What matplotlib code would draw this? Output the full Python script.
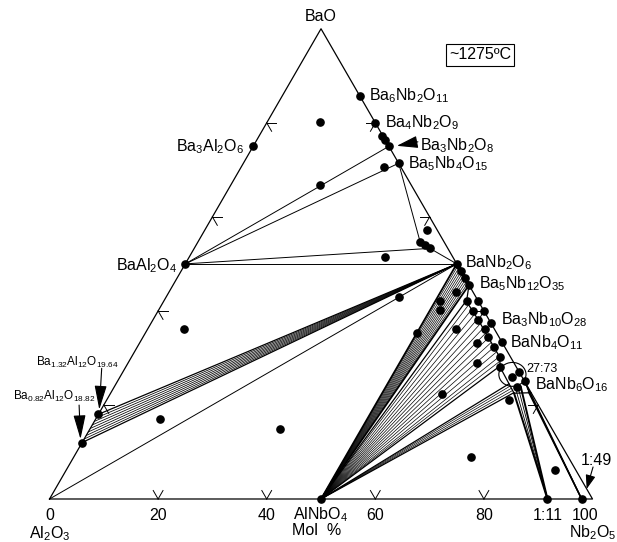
import numpy as np
import matplotlib
matplotlib.use("Agg")
import matplotlib.pyplot as plt
from matplotlib.patches import Ellipse

plt.rcParams["font.family"] = "Liberation Sans"
plt.rcParams["mathtext.fontset"] = "custom"
plt.rcParams["mathtext.rm"] = "Liberation Sans"
plt.rcParams["mathtext.it"] = "Liberation Sans"
plt.rcParams["mathtext.default"] = "regular"

# compositions in mol % (BaO, Nb2O5); Al2O3 is the rest
cmp_labels = [r"$Ba_6Nb_2O_{11}$", r"$Ba_4Nb_2O_9$", r"$Ba_3Nb_2O_8$", r"$Ba_5Nb_4O_{15}$",
              r"$BaNb_2O_6$", r"$Ba_5Nb_{12}O_{35}$", r"$Ba_3Nb_{10}O_{28}$", r"$BaNb_4O_{11}$",
              "27:73", r"$BaNb_6O_{16}$", r"$Ba_3Al_2O_6$", r"$BaAl_2O_4$"]
cmp_bao = [85.7, 80.0, 75.0, 71.4, 50.0, 45.5, 37.5, 33.3, 27.0, 25.0, 75.0, 50.0]
cmp_nb = [14.3, 20.0, 25.0, 28.6, 50.0, 54.5, 62.5, 66.7, 73.0, 75.0, 0.0, 0.0]

# Ba beta-alumina limits
ba132 = (18.0, 0.0)
ba082 = (12.0, 0.0)
alnbo4 = (0.0, 50.0)
r111 = (0.0, 91.7)
r149 = (0.0, 98.0)

# small cluster below Ba5Nb4O15
clu_bao = [54.7, 54.0, 53.3]
clu_nb = [40.9, 42.1, 43.4]

# inner boundary of the Al-substituted tungsten-bronze field
inner_bao = [45.5, 42.0, 38.1, 34.4, 30.2, 28.0, 22.5]
inner_nb = [54.5, 55.8, 59.9, 63.6, 67.8, 69.0, 74.3]

# experimental compositions (dots)
dot_bao = [80.1, 77.2, 76.4, 70.7, 66.8, 57.2, 51.5, 36.1, 17.0, 42.9, 14.9,
           44.1, 42.0, 40.1, 35.4, 36.1, 33.1, 28.9, 22.3, 9.0, 6.2, 21.1, 23.9, 26.0,
           42.0, 39.9, 38.1, 36.1, 34.4, 32.4, 30.2, 28.0, 42.0, 39.9, 48.5, 47.0]
dot_nb = [9.7, 22.7, 23.6, 26.3, 16.4, 40.9, 36.0, 6.8, 11.8, 42.9, 35.0,
          52.9, 50.9, 51.9, 49.9, 56.9, 62.1, 64.2, 61.1, 73.1, 90.0, 74.1, 74.1, 72.1,
          55.8, 58.1, 59.9, 62.2, 63.6, 65.7, 67.8, 69.0, 58.0, 60.0, 51.5, 53.0]

tick_vals = [20, 40, 60, 80]
bottom_vals = [0, 20, 40, 60, 80]

S3 = np.sqrt(3) / 2
PX = 100 / 543  # data units per pixel


def xy(bao, nb):
    return nb + bao / 2, bao * S3


fig = plt.figure(figsize=(6.17, 5.42), dpi=100)
ax = fig.add_axes([0, 0, 1, 1])
ax.set_xlim(-9.12, 104.51)
ax.set_ylim(-7.92, 91.90)
ax.axis("off")


def seg(p, q, lw=0.7):
    x0, y0 = xy(*p)
    x1, y1 = xy(*q)
    ax.plot([x0, x1], [y0, y1], color="k", lw=lw, solid_capstyle="round")


def fan(apex, p0, p1, n, lw=0.55, edge_lw=0.9):
    for i, t in enumerate(np.linspace(0, 1, n)):
        q = (p0[0] + t * (p1[0] - p0[0]), p0[1] + t * (p1[1] - p0[1]))
        w = edge_lw if i in (0, n - 1) else lw
        seg(apex, q, w)


cmp = {lab: (b, n) for lab, b, n in zip(cmp_labels, cmp_bao, cmp_nb)}
baal2o4 = cmp[r"$BaAl_2O_4$"]
banb2o6 = cmp[r"$BaNb_2O_6$"]
ba5nb4 = cmp[r"$Ba_5Nb_4O_{15}$"]
ba3nb2 = cmp[r"$Ba_3Nb_2O_8$"]
ba5nb12 = cmp[r"$Ba_5Nb_{12}O_{35}$"]
banb6 = cmp[r"$BaNb_6O_{16}$"]

# triangle
tri = [(0, 0), (0, 100), (100, 0), (0, 0)]
tx, ty = zip(*[xy(*p) for p in tri])
ax.plot(tx, ty, color="k", lw=0.9)

# ticks on the three edges
L = 1.8
for v in tick_vals:
    x, y = xy(0, v)
    for d in [(-0.5, S3), (0.5, S3)]:
        ax.plot([x, x + L * d[0]], [y, y + L * d[1]], color="k", lw=0.7)
    x, y = xy(v, 0)
    for d in [(1, 0), (0.5, -S3)]:
        ax.plot([x, x + L * d[0]], [y, y + L * d[1]], color="k", lw=0.7)
    x, y = xy(v, 100 - v)
    for d in [(-1, 0), (-0.5, -S3)]:
        ax.plot([x, x + L * d[0]], [y, y + L * d[1]], color="k", lw=0.7)

# tie lines in the Ba-rich part
clu_top = (clu_bao[0], clu_nb[0])
clu_bot = (clu_bao[-1], clu_nb[-1])
seg(baal2o4, ba3nb2)
seg(baal2o4, ba5nb4)
seg(baal2o4, clu_bot)
seg(baal2o4, banb2o6)
seg(ba5nb4, clu_top)
seg(clu_top, clu_bot, 1.5)
seg(clu_bot, banb2o6)
seg((0, 0), banb2o6)
seg(banb2o6, ba5nb12, 3.0)

# beta-alumina fan to BaNb2O6
fan(banb2o6, ba082, ba132, 9)

# fans from AlNbO4
fan(alnbo4, banb2o6, ba5nb12, 12, lw=0.5, edge_lw=1.3)
ib = np.array(inner_bao[::-1])
inb = np.array(inner_nb[::-1])
c_bao = np.linspace(42.3, 28.3, 15)
for i, b in enumerate(c_bao):
    seg(alnbo4, (b, np.interp(b, ib, inb)), 0.9 if i in (0, len(c_bao) - 1) else 0.5)
d_bao = np.linspace(24.5, 22.6, 5)
for i, b in enumerate(d_bao):
    seg(alnbo4, (b, np.interp(b, ib, inb)), 0.9 if i in (0, len(d_bao) - 1) else 0.5)

# inner boundary and BaNb6O16 corner
ix, iy = zip(*[xy(b, n) for b, n in zip(inner_bao, inner_nb)])
ax.plot(ix, iy, color="k", lw=0.9)
seg((inner_bao[-1], inner_nb[-1]), (22.6, 77.4), 0.9)

# fans to 1:11 and 1:49
fan(r111, (22.5, 74.3), (23.8, 74.9), 4, lw=0.6, edge_lw=1.4)
fan(r149, (22.8, 76.8), banb6, 4, lw=0.6, edge_lw=1.1)

# circled 27:73 region
ex, ey = xy(26.5, 72.0)
ax.add_patch(Ellipse((ex, ey), 5.0, 4.4, fill=False, ec="k", lw=0.8))

# dots
dx_, dy_ = zip(*[xy(b, n) for b, n in zip(dot_bao, dot_nb)])
ax.plot(dx_, dy_, "o", color="k", ms=5.2, zorder=5)
px_, py_ = zip(*[xy(b, n) for b, n in zip(cmp_bao, cmp_nb)])
ax.plot(px_, py_, "o", color="k", ms=5.2, zorder=5)
cx, cy = zip(*[xy(b, n) for b, n in zip(clu_bao, clu_nb)])
ax.plot(cx, cy, "o", color="k", ms=5.2, zorder=5)
for p in [ba132, ba082, alnbo4, r111, r149]:
    ax.plot(*xy(*p), "o", color="k", ms=5.2, zorder=5)


# labels, offsets in pixels (dy up)
def label(text, p, dx, dy, ha="left", size=11.5):
    ax.annotate(text, xy(*p), xytext=(dx * 0.72, dy * 0.72), textcoords="offset points",
                ha=ha, va="baseline", fontsize=size)


offsets = {
    r"$Ba_6Nb_2O_{11}$": (9, -4, "left", 11.5),
    r"$Ba_4Nb_2O_9$": (10, -4.4, "left", 11.5),
    r"$Ba_3Nb_2O_8$": (31, -4.2, "left", 11.5),
    r"$Ba_5Nb_4O_{15}$": (9.7, -5.3, "left", 11.5),
    r"$BaNb_2O_6$": (8.3, -3.3, "left", 11.5),
    r"$Ba_5Nb_{12}O_{35}$": (10.3, -3.6, "left", 11.5),
    r"$Ba_3Nb_{10}O_{28}$": (9.8, -2, "left", 11.5),
    r"$BaNb_4O_{11}$": (8, -5, "left", 11.5),
    "27:73": (7.5, 0, "left", 9),
    r"$BaNb_6O_{16}$": (10.4, -7.8, "left", 11.5),
    r"$Ba_3Al_2O_6$": (-9.7, -5.2, "right", 11.5),
    r"$BaAl_2O_4$": (-8.5, -6, "right", 11.5),
}
for lab in cmp_labels:
    dx, dy, ha, sz = offsets[lab]
    label(lab, cmp[lab], dx, dy, ha, sz)

label("BaO", (100, 0), 0, 8, "center")
label(r"$Ba_{1.32}Al_{12}O_{19.64}$", ba132, -21, 48, "center", 8.5)
label(r"$Ba_{0.82}Al_{12}O_{18.82}$", ba082, -27.6, 42.5, "center", 8.5)
label("1:49", r149, 15, 34, "center", 11.5)


def arrow(p, tail, tip, hl, hw):
    x, y = xy(*p)
    ax.annotate("", xy=(x + tip[0] * PX, y + tip[1] * PX),
                xytext=(x + tail[0] * PX, y + tail[1] * PX),
                arrowprops=dict(arrowstyle=f"-|>,head_length={hl},head_width={hw}",
                                color="k", lw=0.8, shrinkA=0, shrinkB=0))


arrow(ba3nb2, (29, 4.5), (8, 0.5), 1.3, 0.38)
arrow(ba132, (3.3, 46), (0.9, 4.8), 1.5, 0.38)
arrow(ba082, (-3, 37.5), (-1.6, 3.5), 1.5, 0.38)
arrow(r149, (11.4, 32), (5, 10), 0.85, 0.3)

# bottom axis labels
for v in bottom_vals:
    ax.text(v, -3.85, str(v), ha="center", va="baseline", fontsize=11.5)
ax.text(98.6, -3.85, "100", ha="center", va="baseline", fontsize=11.5)
ax.text(50, -3.7, r"$AlNbO_4$", ha="center", va="baseline", fontsize=11.5)
ax.text(91.7, -3.85, "1:11", ha="center", va="baseline", fontsize=11.5)
ax.text(0.1, -7.2, r"$Al_2O_3$", ha="center", va="baseline", fontsize=11.5)
ax.text(49.2, -6.6, "Mol  %", ha="center", va="baseline", fontsize=11.5)
ax.text(100.1, -7.0, r"$Nb_2O_5$", ha="center", va="baseline", fontsize=11.5)

# temperature box
ax.text(79.3, 81.8, "~1275ºC", ha="center", va="center", fontsize=11.5,
        bbox=dict(boxstyle="square,pad=0.2", fc="white", ec="k", lw=0.8))

fig.savefig("out.png", dpi=100)
